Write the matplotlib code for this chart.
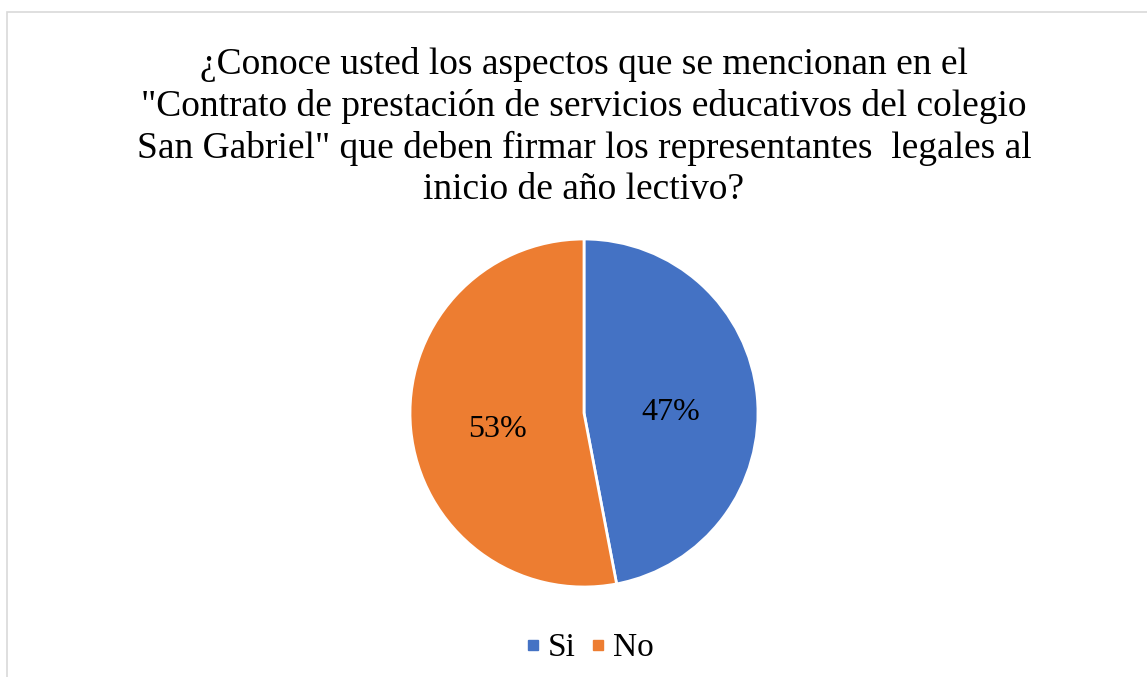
import matplotlib
matplotlib.use("Agg")
import matplotlib.pyplot as plt
from matplotlib.patches import Rectangle
from matplotlib.lines import Line2D

plt.rcParams['font.family'] = ['Liberation Serif', 'DejaVu Serif']

categories = ["Si", "No"]
values = [47, 53]
colors = ["#4472C4", "#ED7D31"]
title = ('¿Conoce usted los aspectos que se mencionan en el\n'
         '"Contrato de prestación de servicios educativos del colegio\n'
         'San Gabriel" que deben firmar los representantes  legales al\n'
         'inicio de año lectivo?')

W, H = 1147, 677
fig = plt.figure(figsize=(W / 100, H / 100), dpi=100)

# border
fig.patches.append(Rectangle((7 / W, -0.05), 1.2, (H - 12) / H + 0.05,
                             transform=fig.transFigure, fill=False,
                             edgecolor="#D9D9D9", linewidth=1.2))

cx, cy, r = 584, 413, 174
ax = fig.add_axes([(cx - r) / W, (H - cy - r) / H, 2 * r / W, 2 * r / H])
wedges, texts, autotexts = ax.pie(values, colors=colors, startangle=90, counterclock=False,
                                  autopct='%1.0f%%', pctdistance=0.5, radius=1,
                                  wedgeprops=dict(edgecolor='white', linewidth=2),
                                  textprops=dict(fontsize=23, color='black'))
for t in autotexts:
    x, y = t.get_position()
    t.set_position((x, y - 0.045))
ax.set_xlim(-1, 1)
ax.set_ylim(-1, 1)
ax.set_aspect('equal')
ax.axis('off')

fig.text(cx / W, 1 - 47 / H, title, ha='center', va='top', fontsize=27, linespacing=1.25)

handles = [Line2D([0], [0], marker='s', linestyle='none', markersize=7.5,
                  markerfacecolor=c, markeredgecolor=c) for c in colors]
fig.legend(handles, categories, loc='center', bbox_to_anchor=(590 / W, 1 - 648 / H),
           ncol=2, frameon=False, fontsize=24, handletextpad=0.25, columnspacing=0.45,
           handlelength=0.4)

fig.savefig("out.png", dpi=100)
